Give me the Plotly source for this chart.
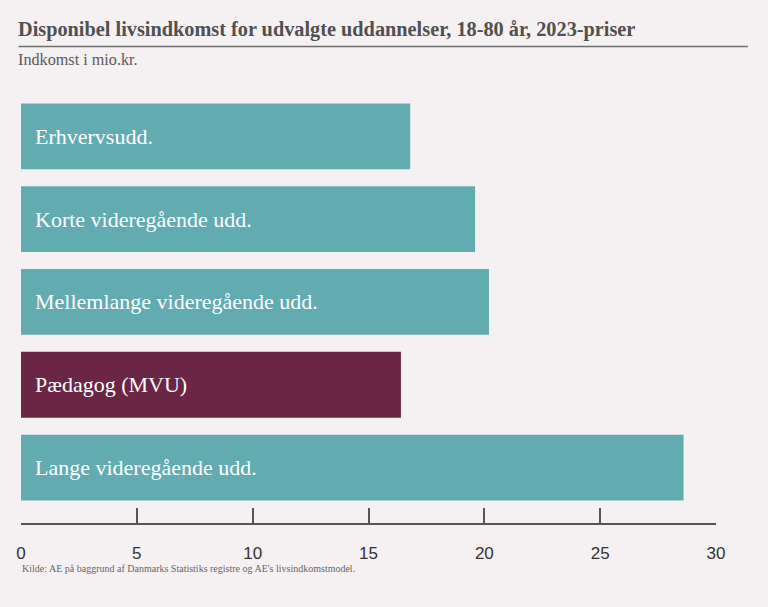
import plotly.graph_objects as go

categories = ["Erhvervsudd.", "Korte videregående udd.", "Mellemlange videregående udd.",
              "Pædagog (MVU)", "Lange videregående udd."]
values = [16.8, 19.6, 20.2, 16.4, 28.6]
bar_colors = ["#62abb1", "#62abb1", "#62abb1", "#6b2646", "#62abb1"]
tick_vals = [0, 5, 10, 15, 20, 25, 30]
tick_text = ["0", "5", "10", "15", "20", "25", "30"]

title = "Disponibel livsindkomst for udvalgte uddannelser, 18-80 år, 2023-priser"
subtitle = "Indkomst i mio.kr."
source = "Kilde: AE på baggrund af Danmarks Statistiks registre og AE's livsindkomstmodel."

BG = "#f5f0f2"
SERIF = "Liberation Serif, DejaVu Serif, serif"

W, H = 768, 607
ml, mr, mt, mb = 20.5, 52, 94.5, 84
pw, ph = W - ml - mr, H - mt - mb


def px(x):
    return (x - ml) / pw


def py(y):
    return 1 - (y - mt) / ph


fig = go.Figure()
fig.add_trace(go.Bar(
    x=values, y=categories, orientation="h",
    marker=dict(color=bar_colors, line=dict(width=0)),
    hoverinfo="x+y",
))

for cat in categories:
    fig.add_annotation(x=0, y=cat, xref="x", yref="y", text=cat, showarrow=False,
                       xanchor="left", yanchor="middle", xshift=12,
                       font=dict(family=SERIF, size=22, color="white"))

fig.add_annotation(x=px(15), y=py(29), xref="paper", yref="paper", text=f"<b>{title}</b>",
                   showarrow=False, xanchor="left", yanchor="middle",
                   font=dict(family=SERIF, size=20.3, color="#505050"))
fig.add_annotation(x=px(15), y=py(59), xref="paper", yref="paper", text=subtitle,
                   showarrow=False, xanchor="left", yanchor="middle",
                   font=dict(family=SERIF, size=16.2, color="#5a5a5a"))
fig.add_annotation(x=px(19), y=py(569), xref="paper", yref="paper", text=source,
                   showarrow=False, xanchor="left", yanchor="middle",
                   font=dict(family=SERIF, size=10, color="#666666"))

fig.add_shape(type="line", xref="paper", yref="paper",
              x0=px(18), x1=px(748), y0=py(46), y1=py(46),
              line=dict(color="#6e6e6e", width=1.5))

fig.update_layout(
    width=W, height=H,
    margin=dict(l=ml, r=mr, t=mt, b=mb, autoexpand=False),
    paper_bgcolor=BG, plot_bgcolor=BG,
    showlegend=False, bargap=0.205,
    font=dict(family=SERIF),
)
fig.update_xaxes(range=[0, 30], tickvals=tick_vals, ticktext=tick_text,
                 automargin=False,
                 showgrid=False, zeroline=False, showline=True,
                 linecolor="#555555", linewidth=1.5,
                 ticks="inside", ticklen=15, tickwidth=1.5, tickcolor="#555555",
                 ticklabelstandoff=14,
                 tickfont=dict(family="Liberation Sans Narrow, Liberation Sans, sans-serif",
                               size=17, color="#333333"))
fig.update_yaxes(categoryorder="array", categoryarray=categories, automargin=False,
                 range=[4.67, -0.5], showticklabels=False, showgrid=False,
                 zeroline=False, showline=False, ticks="")

post = ("document.body.style.margin='0';document.body.style.overflow='hidden';"
        "document.body.style.background='" + BG + "';")
fig.write_html("out.html", post_script=post, config={"displayModeBar": False})
